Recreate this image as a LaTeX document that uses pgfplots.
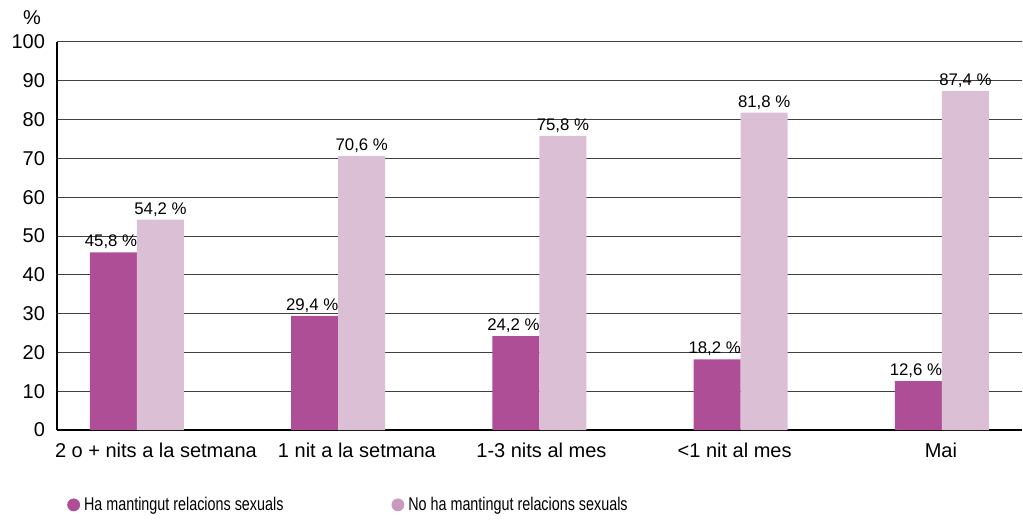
\documentclass[border=0pt]{standalone}
\usepackage{fontspec}
\setmainfont{Liberation Sans}
\newfontfamily\legfont[FakeStretch=0.78]{Liberation Sans}
\usepackage{pgfplots}
\pgfplotsset{compat=1.18}

\definecolor{bardark}{HTML}{AE4E97}
\definecolor{barlight}{HTML}{DBC0D5}
\definecolor{leglight}{HTML}{C999BF}

\begin{document}
\begin{tikzpicture}
  \begin{axis}[
      at={(0,0)}, anchor=south west,
      scale only axis, clip=false,
      width=482.5pt, height=194pt,
      xmin=-0.3975, xmax=4.398,
      ymin=0, ymax=100,
      bar width=23.5pt,
      axis x line*=bottom, axis y line*=left,
      axis line style={line width=0.8pt, -},
      ytick={0,10,...,100},
      ymajorgrids,
      grid style={black!75, line width=0.5pt},
      major tick length=0pt,
      xtick={0.094,1.093,2.01,2.97,3.995},
      xticklabels={2 o + nits a la setmana, 1 nit a la setmana, 1-3 nits al mes, <1 nit al mes, Mai},
      /pgf/number format/assume math mode=true,
      tick label style={font=\fontsize{10pt}{12pt}\selectfont},
      yticklabel style={xshift=-2.5pt},
      xticklabel style={yshift=-3pt},
      nodes near coords={\pgfmathprintnumber[fixed,fixed zerofill,precision=1,use comma]{\pgfplotspointmeta}~\%},
      nodes near coords style={font=\fontsize{8.4pt}{10pt}\selectfont, inner sep=1.5pt},
      legend columns=2,
      legend style={at={(0.004,-0.193)}, anchor=west, draw=none, fill=none,
        font=\legfont\fontsize{9.2pt}{11pt}\selectfont,
        /tikz/every even column/.append style={column sep=52pt}},
      legend cell align=left,
    ]
    \addplot[ybar, bar shift=-11.75pt, fill=bardark, draw=none, forget plot,
      every node near coord/.append style={xshift=-13pt}] coordinates {
      (0,45.8) (1,29.4) (2,24.2) (3,18.2) (4,12.6)};
    \addplot[ybar, bar shift=11.75pt, fill=barlight, draw=none, forget plot,
      every node near coord/.append style={xshift=11.75pt}] coordinates {
      (0,54.2) (1,70.6) (2,75.8) (3,81.8) (4,87.4)};
    \addlegendimage{legend image code/.code={\fill[bardark] (3pt,0pt) circle (3pt);}}
    \addlegendentry{Ha mantingut relacions sexuals}
    \addlegendimage{legend image code/.code={\fill[leglight] (3pt,0pt) circle (3pt);}}
    \addlegendentry{No ha mantingut relacions sexuals}
    \node[font=\fontsize{10pt}{12pt}\selectfont] at (axis description cs:-0.026,1.062) {\%};
  \end{axis}
  \pgfresetboundingbox
  \useasboundingbox (-28.5pt,-45pt) rectangle (483pt,215pt);
\end{tikzpicture}
\end{document}
